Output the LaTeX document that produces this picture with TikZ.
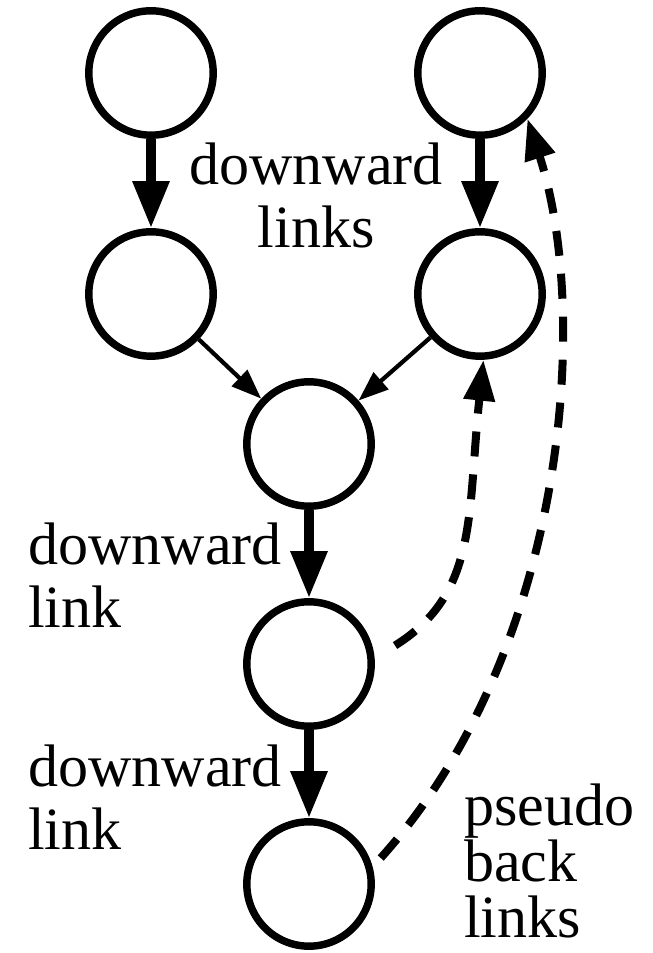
\documentclass[tikz,border=0pt]{standalone}
\usepackage{fontspec}
\setmainfont{Liberation Serif}
\usetikzlibrary{arrows.meta}

\begin{document}
\begin{tikzpicture}[
  vertex/.style={draw, circle, line width=5.3pt, minimum size=3.11cm, inner sep=0pt},
  downlink/.style={line width=6.6pt, -{Triangle[length=1.175cm, width=0.875cm]}},
  mergelink/.style={line width=3pt, -{Triangle[length=0.75cm, width=0.55cm]}},
  backlink/.style={line width=5.7pt, dash pattern=on 0.625cm off 0.45cm, -{Triangle[length=1.02cm, width=0.75cm]}},
  lbl/.style={inner sep=0pt, font=\fontsize{42.7}{44.8}\selectfont}
]
\useasboundingbox (0,0) rectangle (16.3,23.825);

% Nodes
\node[vertex] (tl) at (3.775,22.0) {};
\node[vertex] (tr) at (12.0,22.0) {};
\node[vertex] (ml) at (3.775,16.475) {};
\node[vertex] (mr) at (12.0,16.475) {};
\node[vertex] (join) at (7.725,12.725) {};
\node[vertex] (lo) at (7.725,7.225) {};
\node[vertex] (bot) at (7.725,1.725) {};

% Labels
\node[lbl, anchor=north, align=center] (toplbl) at (7.9,20.25) {downward\\links};
\node[lbl, anchor=north west, align=left] (lbla) at (0.7,10.75) {downward\\link};
\node[lbl, anchor=north west, align=left] (lblb) at (0.7,5.2) {downward\\link};
\node[lbl, anchor=north west, align=left, font=\fontsize{42.7}{39.8}\selectfont] (lblc) at (11.6,4.225) {pseudo\\back\\links};

% Downward links
\draw[downlink] (tl) -- (ml);
\draw[downlink] (tr) -- (mr);
\draw[downlink] (join) -- (lo);
\draw[downlink] (lo) -- (bot);
\draw[mergelink] (ml) -- (join);
\draw[mergelink] (mr) -- (join);

% Pseudo back links
\draw[backlink, shorten <=0.6cm] (lo.5) to[out=32, in=-96, out distance=3.06cm, in distance=3.89cm] (mr.-87);
\draw[backlink, shorten <=0.3cm] (bot.15) to[out=48, in=-72, out distance=7.2cm, in distance=5.2cm] (tr.-44);
\end{tikzpicture}
\end{document}
